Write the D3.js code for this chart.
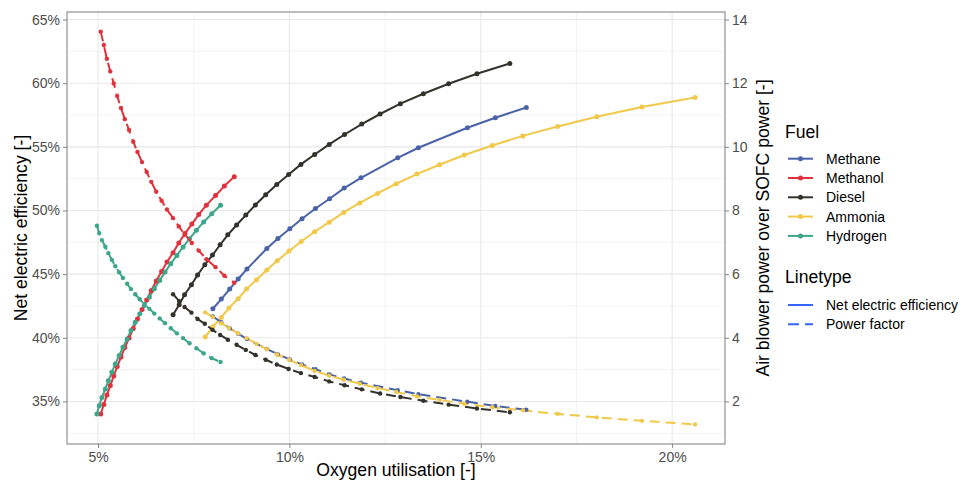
<!DOCTYPE html>
<html>
<head>
<meta charset="utf-8">
<script src="https://cdn.jsdelivr.net/npm/d3@7"></script>
<style>
  body { margin: 0; background: #ffffff; }
  text { font-family: "Liberation Sans", Arial, Helvetica, sans-serif; }
</style>
</head>
<body>
<svg id="chart" width="962" height="484"></svg>
<script>
// ---- data -------------------------------------------------------------
const fuels = ["Methane", "Methanol", "Diesel", "Ammonia", "Hydrogen"];
const linetypes = ["Net electric efficiency", "Power factor"];

// oxygen utilisation [%]
const methaneUtil  = [8.00, 8.22, 8.44, 8.66, 8.89, 9.41, 9.70, 10.01, 10.33, 10.68, 11.05, 11.43, 11.87, 12.83, 13.37, 14.65, 15.38, 16.19];
const methanolUtil = [5.07, 5.15, 5.23, 5.32, 5.41, 5.50, 5.60, 5.70, 5.81, 5.92, 6.03, 6.15, 6.27, 6.39, 6.52, 6.66, 6.80, 6.96, 7.11, 7.27, 7.45, 7.63, 7.83, 8.07, 8.30, 8.56];
const dieselUtil   = [6.96, 7.12, 7.26, 7.44, 7.60, 7.79, 7.99, 8.19, 8.39, 8.62, 8.86, 9.11, 9.38, 9.67, 9.98, 10.30, 10.66, 11.04, 11.44, 11.89, 12.37, 12.90, 13.50, 14.16, 14.90, 15.76];
const ammoniaUtil  = [7.80, 8.00, 8.22, 8.42, 8.66, 8.88, 9.14, 9.41, 9.68, 9.99, 10.31, 10.66, 11.04, 11.42, 11.84, 12.30, 12.79, 13.33, 13.92, 14.57, 15.30, 16.10, 17.01, 18.03, 19.21, 20.60];
const hydrogenUtil = [4.97, 5.03, 5.10, 5.19, 5.27, 5.36, 5.45, 5.55, 5.65, 5.76, 5.86, 5.97, 6.09, 6.21, 6.34, 6.47, 6.61, 6.75, 6.90, 7.06, 7.22, 7.39, 7.57, 7.76, 7.97, 8.20];

// net electric efficiency [%]
const methaneEff  = [42.28, 43.04, 43.83, 44.62, 45.40, 47.02, 47.80, 48.57, 49.35, 50.16, 50.92, 51.76, 52.57, 54.14, 54.93, 56.50, 57.29, 58.09];
const methanolEff = [34.01, 34.76, 35.50, 36.25, 37.00, 37.74, 38.49, 39.23, 39.98, 40.73, 41.47, 42.22, 42.96, 43.71, 44.46, 45.20, 45.95, 46.69, 47.44, 48.19, 48.93, 49.68, 50.42, 51.17, 51.92, 52.66];
const dieselEff   = [41.81, 42.60, 43.38, 44.17, 44.93, 45.74, 46.50, 47.31, 48.09, 48.86, 49.64, 50.43, 51.24, 52.05, 52.83, 53.62, 54.40, 55.19, 55.97, 56.79, 57.58, 58.39, 59.17, 59.96, 60.74, 61.55];
const ammoniaEff  = [40.06, 40.87, 41.60, 42.34, 43.07, 43.83, 44.56, 45.32, 46.05, 46.81, 47.57, 48.33, 49.08, 49.85, 50.59, 51.34, 52.10, 52.86, 53.59, 54.36, 55.11, 55.86, 56.60, 57.37, 58.13, 58.88];
const hydrogenEff = [34.01, 34.67, 35.32, 35.98, 36.63, 37.29, 37.95, 38.60, 39.26, 39.91, 40.57, 41.23, 41.88, 42.54, 43.19, 43.85, 44.51, 45.16, 45.82, 46.47, 47.13, 47.79, 48.44, 49.10, 49.75, 50.41];

// air blower power over SOFC power [-]
const methanePF  = [4.67, 4.49, 4.30, 4.13, 3.96, 3.65, 3.48, 3.32, 3.16, 3.01, 2.85, 2.72, 2.59, 2.35, 2.23, 1.99, 1.86, 1.74];
const methanolPF = [13.62, 13.20, 12.77, 12.37, 11.99, 11.60, 11.22, 10.87, 10.53, 10.16, 9.84, 9.52, 9.21, 8.90, 8.59, 8.31, 8.03, 7.76, 7.50, 7.24, 6.98, 6.74, 6.47, 6.22, 5.95, 5.73];
const dieselPF   = [5.37, 5.15, 4.97, 4.79, 4.59, 4.44, 4.25, 4.09, 3.94, 3.78, 3.62, 3.46, 3.31, 3.16, 3.02, 2.89, 2.77, 2.63, 2.51, 2.38, 2.25, 2.14, 2.02, 1.90, 1.78, 1.66];
const ammoniaPF  = [4.80, 4.65, 4.46, 4.31, 4.14, 3.99, 3.81, 3.64, 3.47, 3.31, 3.14, 2.96, 2.81, 2.68, 2.56, 2.42, 2.30, 2.16, 2.05, 1.93, 1.82, 1.72, 1.61, 1.50, 1.39, 1.28];
const hydrogenPF = [7.52, 7.29, 7.07, 6.86, 6.66, 6.45, 6.25, 6.06, 5.88, 5.70, 5.53, 5.37, 5.21, 5.06, 4.91, 4.76, 4.61, 4.46, 4.30, 4.14, 3.99, 3.83, 3.67, 3.51, 3.36, 3.24];

// tick values
const xTicks = [5, 10, 15, 20];
const yTicks = [35, 40, 45, 50, 55, 60, 65];
const y2Ticks = [2, 4, 6, 8, 10, 12, 14];

// secondary axis relation: efficiency[%] = 30 + 2.5 * power factor
const secOffset = 30, secScale = 2.5;

// ---- styling ----------------------------------------------------------
const fuelColours = ["#4A62A8", "#E0323C", "#33322B", "#F2C84B", "#3EA68A"];
const linetypeColour = "#3366FF";
const dashPattern = "10,6";

const series = [
  { util: methaneUtil,  eff: methaneEff,  pf: methanePF },
  { util: methanolUtil, eff: methanolEff, pf: methanolPF },
  { util: dieselUtil,   eff: dieselEff,   pf: dieselPF },
  { util: ammoniaUtil,  eff: ammoniaEff,  pf: ammoniaPF },
  { util: hydrogenUtil, eff: hydrogenEff, pf: hydrogenPF }
].map((s, i) => ({
  fuel: fuels[i],
  colour: fuelColours[i],
  effPts: s.util.map((u, j) => ({ x: u, y: s.eff[j] })),
  pfPts: s.util.map((u, j) => ({ x: u, y: s.pf[j] }))
}));

// ---- layout -----------------------------------------------------------
const panel = { left: 67, right: 725, top: 12, bottom: 444 };

function expand(ext, f) {
  const d = (ext[1] - ext[0]) * f;
  return [ext[0] - d, ext[1] + d];
}
const allX = series.flatMap(s => s.effPts.map(p => p.x));
const allY = series.flatMap(s => s.effPts.map(p => p.y)
  .concat(s.pfPts.map(p => secOffset + secScale * p.y)));

const x = d3.scaleLinear().domain(expand(d3.extent(allX), 0.05)).range([panel.left, panel.right]);
const yDom = expand(d3.extent(allY), 0.05);
const y = d3.scaleLinear().domain(yDom).range([panel.bottom, panel.top]);
const y2 = d3.scaleLinear()
  .domain(yDom.map(v => (v - secOffset) / secScale))
  .range([panel.bottom, panel.top]);

const svg = d3.select("#chart");

// ---- grid -------------------------------------------------------------
const grid = svg.append("g");
const xMinor = [7.5, 12.5, 17.5];
const yMinor = [32.5, 37.5, 42.5, 47.5, 52.5, 57.5, 62.5];
grid.selectAll(".ymin").data(yMinor).join("line")
  .attr("x1", panel.left).attr("x2", panel.right)
  .attr("y1", d => y(d)).attr("y2", d => y(d))
  .attr("stroke", "#f0f0f0").attr("stroke-width", 0.8);
grid.selectAll(".xmin").data(xMinor).join("line")
  .attr("y1", panel.top).attr("y2", panel.bottom)
  .attr("x1", d => x(d)).attr("x2", d => x(d))
  .attr("stroke", "#f0f0f0").attr("stroke-width", 0.8);
grid.selectAll(".ymaj").data(yTicks).join("line")
  .attr("x1", panel.left).attr("x2", panel.right)
  .attr("y1", d => y(d)).attr("y2", d => y(d))
  .attr("stroke", "#e8e8e8").attr("stroke-width", 1.1);
grid.selectAll(".xmaj").data(xTicks).join("line")
  .attr("y1", panel.top).attr("y2", panel.bottom)
  .attr("x1", d => x(d)).attr("x2", d => x(d))
  .attr("stroke", "#e8e8e8").attr("stroke-width", 1.1);

// ---- series -----------------------------------------------------------
const lineEff = d3.line().x(d => x(d.x)).y(d => y(d.y));
const linePF = d3.line().x(d => x(d.x)).y(d => y2(d.y));
const plot = svg.append("g");

series.forEach(s => {
  plot.append("path").datum(s.effPts)
    .attr("d", lineEff).attr("fill", "none")
    .attr("stroke", s.colour).attr("stroke-width", 2);
});
series.forEach(s => {
  plot.append("g").selectAll("circle").data(s.effPts).join("circle")
    .attr("cx", d => x(d.x)).attr("cy", d => y(d.y)).attr("r", 2.5)
    .attr("fill", s.colour);
});
series.forEach(s => {
  plot.append("path").datum(s.pfPts)
    .attr("d", linePF).attr("fill", "none")
    .attr("stroke", s.colour).attr("stroke-width", 2)
    .attr("stroke-dasharray", dashPattern);
});
series.forEach(s => {
  plot.append("g").selectAll("circle").data(s.pfPts).join("circle")
    .attr("cx", d => x(d.x)).attr("cy", d => y2(d.y)).attr("r", 2.2)
    .attr("fill", s.colour);
});

// ---- panel border and axes -------------------------------------------
svg.append("rect")
  .attr("x", panel.left).attr("y", panel.top)
  .attr("width", panel.right - panel.left).attr("height", panel.bottom - panel.top)
  .attr("fill", "none").attr("stroke", "#858585").attr("stroke-width", 1.1);

function styleAxis(g) {
  g.select(".domain").remove();
  g.selectAll(".tick line").attr("stroke", "#858585").attr("stroke-width", 1);
  g.selectAll(".tick text").attr("fill", "#4d4d4d").attr("font-size", "14px")
    .attr("font-family", "'Liberation Sans', Arial, sans-serif");
}
svg.append("g").attr("transform", `translate(0,${panel.bottom})`)
  .call(d3.axisBottom(x).tickValues(xTicks).tickFormat(d => d + "%").tickSizeInner(4).tickPadding(4))
  .call(styleAxis);
svg.append("g").attr("transform", `translate(${panel.left},0)`)
  .call(d3.axisLeft(y).tickValues(yTicks).tickFormat(d => d + "%").tickSizeInner(4).tickPadding(3))
  .call(styleAxis);
svg.append("g").attr("transform", `translate(${panel.right},0)`)
  .call(d3.axisRight(y2).tickValues(y2Ticks).tickFormat(d3.format("d")).tickSizeInner(4).tickPadding(3))
  .call(styleAxis);

// axis titles
const midY = (panel.top + panel.bottom) / 2;
svg.append("text").attr("x", (panel.left + panel.right) / 2).attr("y", 476)
  .attr("text-anchor", "middle").attr("font-size", "17.6px").attr("fill", "#000")
  .text("Oxygen utilisation [-]");
svg.append("text").attr("transform", `translate(27,${midY}) rotate(-90)`)
  .attr("text-anchor", "middle").attr("font-size", "17.6px").attr("fill", "#000")
  .text("Net electric efficiency [-]");
svg.append("text").attr("transform", `translate(769,${midY}) rotate(-90)`)
  .attr("text-anchor", "middle").attr("font-size", "17.6px").attr("fill", "#000")
  .text("Air blower power over SOFC power [-]");

// ---- legends ----------------------------------------------------------
const lg = svg.append("g");
lg.append("text").attr("x", 785).attr("y", 138).attr("font-size", "17.6px").text("Fuel");
const fuelItems = lg.selectAll(".fuel").data(fuels).join("g")
  .attr("transform", (d, i) => `translate(0,${158.7 + i * 19.3})`);
fuelItems.append("line").attr("x1", 788).attr("x2", 813).attr("y1", 0).attr("y2", 0)
  .attr("stroke", (d, i) => fuelColours[i]).attr("stroke-width", 2);
fuelItems.append("circle").attr("cx", 800.5).attr("cy", 0).attr("r", 2.5)
  .attr("fill", (d, i) => fuelColours[i]);
fuelItems.append("text").attr("x", 826).attr("y", 5).attr("font-size", "14px").attr("fill", "#000")
  .text(d => d);

lg.append("text").attr("x", 785).attr("y", 283).attr("font-size", "17.6px").text("Linetype");
const ltItems = lg.selectAll(".lt").data(linetypes).join("g")
  .attr("transform", (d, i) => `translate(0,${305 + i * 19.3})`);
ltItems.append("line").attr("x1", 788).attr("x2", 813).attr("y1", 0).attr("y2", 0)
  .attr("stroke", linetypeColour).attr("stroke-width", 2)
  .attr("stroke-dasharray", (d, i) => i === 0 ? null : "11,6");
ltItems.append("text").attr("x", 826).attr("y", 5).attr("font-size", "14px").attr("fill", "#000")
  .text(d => d);
</script>
</body>
</html>
